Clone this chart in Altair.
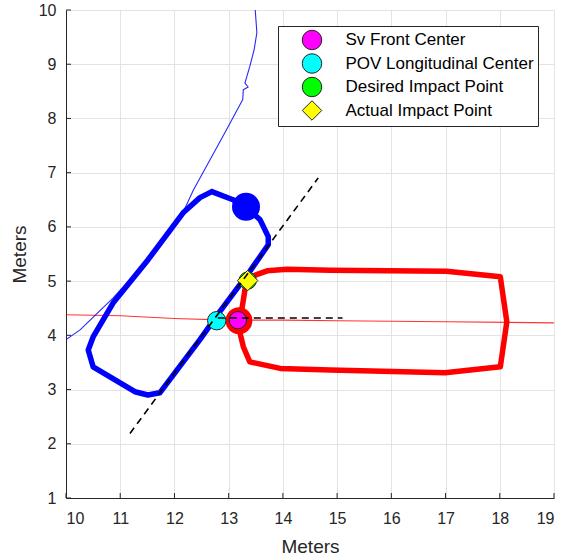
import altair as alt
import pandas as pd

FONT = "Liberation Sans"

# Axis ticks
x_ticks = [10, 11, 12, 13, 14, 15, 16, 17, 18, 19]
y_ticks = [1, 2, 3, 4, 5, 6, 7, 8, 9, 10]

# POV (blue) trajectory, thin line
pov_traj_x = [10.0, 10.26, 10.87, 11.51, 11.73, 12.16, 12.35, 12.96, 13.26, 13.27, 13.36, 13.30, 13.39, 13.47, 13.52, 13.49]
pov_traj_y = [3.92, 4.10, 4.69, 5.39, 5.63, 6.27, 6.68, 7.79, 8.35, 8.53, 8.58, 8.65, 8.96, 9.27, 9.58, 10.0]

# POV outline (blue, thick)
pov_box_x = [12.69, 13.08, 13.32, 13.58, 13.73, 13.73, 13.39, 12.84, 12.47, 11.73, 11.51, 11.27, 10.50, 10.41, 10.50, 10.87, 11.51, 12.16, 12.47, 12.69]
pov_box_y = [6.65, 6.50, 6.37, 6.13, 5.82, 5.67, 5.18, 4.44, 3.92, 2.94, 2.90, 2.96, 3.42, 3.73, 3.97, 4.60, 5.39, 6.26, 6.54, 6.65]

# SV (red) trajectory, thin line
sv_traj_x = [10.0, 11.0, 12.0, 13.0, 14.0, 15.0, 17.0, 19.0]
sv_traj_y = [4.38, 4.36, 4.31, 4.28, 4.28, 4.27, 4.25, 4.23]

# SV outline (red, thick)
sv_box_x = [13.17, 13.25, 13.30, 13.36, 13.49, 13.71, 14.08, 14.87, 17.02, 18.01, 18.13, 18.01, 16.99, 14.87, 13.95, 13.39, 13.27, 13.21, 13.17]
sv_box_y = [4.28, 4.52, 4.84, 5.01, 5.11, 5.19, 5.22, 5.20, 5.18, 5.08, 4.25, 3.42, 3.31, 3.36, 3.39, 3.51, 3.79, 4.04, 4.28]

# Big dots on the outlines
blue_dot_x, blue_dot_y = [13.32], [6.37]
red_dot_x, red_dot_y = [13.19], [4.27]

# Dashed reference lines
diag_x = [11.18, 14.65]
diag_y = [2.19, 6.90]
horiz_x = [12.80, 15.10]
horiz_y = [4.32, 4.32]

# Legend markers
marker_labels = ["Sv Front Center", "POV Longitudinal Center", "Desired Impact Point", "Actual Impact Point"]
marker_colors = ["#ff00ff", "#00ffff", "#00ff00", "#ffff00"]
marker_shapes = ["circle", "circle", "circle", "diamond"]
marker_x = [13.17, 12.78, 13.35, 13.35]
marker_y = [4.28, 4.27, 5.01, 5.01]
marker_sizes = [300, 340, 300, 420]

def path_df(xs, ys):
    return pd.DataFrame({"x": xs, "y": ys, "i": list(range(len(xs)))})

xscale = alt.Scale(domain=[10, 19], nice=False, zero=False)
yscale = alt.Scale(domain=[1, 10], nice=False, zero=False)

X = alt.X("x:Q", scale=xscale, title="Meters",
          axis=alt.Axis(values=x_ticks, format="d", grid=True, ticks=False, labelPadding=12,
                        titlePadding=11))
Y = alt.Y("y:Q", scale=yscale, title="Meters",
          axis=alt.Axis(values=y_ticks, format="d", grid=True, ticks=False, labelPadding=10,
                        titlePadding=9))

def line(xs, ys, color, width, dash=None, opacity=1.0):
    kw = dict(color=color, strokeWidth=width, clip=True, strokeJoin="round", strokeCap="round", opacity=opacity)
    if dash:
        kw["strokeDash"] = dash
        kw["strokeCap"] = "butt"
    return alt.Chart(path_df(xs, ys)).mark_line(**kw).encode(x=X, y=Y, order="i:Q")

layers = []
layers.append(line(sv_traj_x, sv_traj_y, "#ff0000", 1.1, opacity=0.8))
layers.append(line(pov_traj_x, pov_traj_y, "#0000ff", 1.1, opacity=0.85))
layers.append(line(pov_box_x, pov_box_y, "#0000ff", 5.5))
layers.append(line(sv_box_x, sv_box_y, "#ff0000", 5.5))
layers.append(alt.Chart(path_df(blue_dot_x, blue_dot_y)).mark_point(
    filled=True, color="#0000ff", opacity=1, size=784, shape="circle").encode(x=X, y=Y))
layers.append(alt.Chart(path_df(red_dot_x, red_dot_y)).mark_point(
    filled=True, color="#ff0000", opacity=1, size=720, shape="circle").encode(x=X, y=Y))

leg = alt.Legend(title=None, orient="none", legendX=212, legendY=16, direction="vertical",
                 fillColor="white", strokeColor="#262626", padding=3.5,
                 labelFont=FONT, labelFontSize=17, labelColor="black",
                 symbolSize=380, symbolStrokeColor="#262626", symbolStrokeWidth=1,
                 rowPadding=-1.5, labelOffset=23, symbolOffset=20, labelLimit=400)

markers = pd.DataFrame({"x": marker_x, "y": marker_y, "label": marker_labels, "s": marker_sizes})
layers.append(alt.Chart(markers).mark_point(filled=True, opacity=1, stroke="#262626", strokeWidth=1).encode(
    x=X, y=Y,
    color=alt.Color("label:N", scale=alt.Scale(domain=marker_labels, range=marker_colors), legend=leg),
    shape=alt.Shape("label:N", scale=alt.Scale(domain=marker_labels, range=marker_shapes), legend=leg),
    size=alt.Size("s:Q", scale=None, legend=None),
))

layers.append(line(diag_x, diag_y, "black", 1.6, dash=[7, 5]))
layers.append(line(horiz_x, horiz_y, "black", 1.6, dash=[7, 5]))

# inward ticks
xt = pd.DataFrame({"x": x_ticks})
yt = pd.DataFrame({"y": y_ticks})
layers.append(alt.Chart(xt).mark_rule(color="#262626", strokeWidth=1).encode(
    x=alt.X("x:Q", scale=xscale), y=alt.value(488), y2=alt.value(483)))
layers.append(alt.Chart(yt).mark_rule(color="#262626", strokeWidth=1).encode(
    y=alt.Y("y:Q", scale=yscale), x=alt.value(0), x2=alt.value(5)))

chart = alt.layer(*layers).properties(
    width=488, height=488, background="white",
    autosize=alt.AutoSizeParams(type="none"),
    padding={"left": 66, "top": 10, "right": 13, "bottom": 60},
).configure_view(stroke=None).configure_axis(
    labelFont=FONT, titleFont=FONT, labelFontSize=16, titleFontSize=19,
    labelColor="#262626", titleColor="#262626", titleFontWeight="normal",
    gridColor="#e3e3e3", gridWidth=1, domainColor="#262626", domainWidth=1,
)

chart.save("out.html", embed_options={"renderer": "svg", "actions": False})
